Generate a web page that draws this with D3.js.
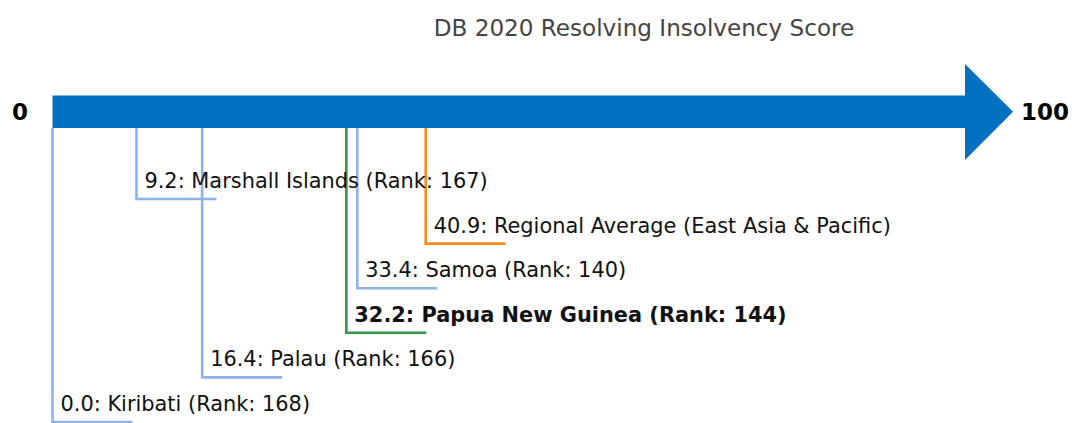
<!DOCTYPE html>
<html>
<head>
<meta charset="utf-8">
<script src="https://cdn.jsdelivr.net/npm/d3@7"></script>
<style>
  html, body { margin: 0; padding: 0; background: #fff; }
  svg { display: block; font-family: "DejaVu Sans", sans-serif; }
</style>
</head>
<body>
<svg id="chart" width="1072" height="423"></svg>
<script>
// Resolving Insolvency scores (0–100), listed in the order of their label rows
const economies = ["Marshall Islands", "Regional Average (East Asia & Pacific)", "Samoa", "Papua New Guinea", "Palau", "Kiribati"];
const scores    = [9.2, 40.9, 33.4, 32.2, 16.4, 0.0];
const ranks     = [167, null, 140, 144, 166, 168];
const kinds     = ["peer", "average", "peer", "focus", "peer", "peer"];
const axisTicks = [0, 100];
const titleText = "DB 2020 Resolving Insolvency Score";

const colors = { peer: "#8cb4ea", average: "#f58a1f", focus: "#2f9a47" };

const svg = d3.select("#chart");
const x = d3.scaleLinear().domain([0, 100]).range([52.5, 965]);
const row = d3.scaleLinear().domain([0, 5]).range([199, 422]);

const barTop = 95.5, barBottom = 128, barMid = (barTop + barBottom) / 2;

// title
svg.append("text")
  .attr("x", 644).attr("y", 36)
  .attr("text-anchor", "middle")
  .attr("font-size", 23.1)
  .attr("fill", "#444")
  .text(titleText);

// score leaders: down from the bar, then right under the label
const data = economies.map((name, i) => ({ name, score: scores[i], rank: ranks[i], kind: kinds[i], i }));

const g = svg.append("g");
g.selectAll("path.leader")
  .data(data)
  .join("path")
  .attr("class", "leader")
  .attr("fill", "none")
  .attr("stroke", d => colors[d.kind])
  .attr("stroke-width", 2.6)
  .attr("d", d => {
    const x0 = x(d.score), y1 = row(d.i);
    return `M${x0},${barBottom}V${y1}H${x0 + 80}`;
  });

g.selectAll("text.label")
  .data(data)
  .join("text")
  .attr("class", "label")
  .attr("x", d => x(d.score) + 8)
  .attr("y", d => row(d.i) - 11)
  .attr("font-size", 20.9)
  .attr("font-weight", d => d.kind === "focus" ? "bold" : "normal")
  .attr("fill", "#111")
  .text(d => d.rank == null
    ? `${d.score.toFixed(1)}: ${d.name}`
    : `${d.score.toFixed(1)}: ${d.name} (Rank: ${d.rank})`);

// arrow-shaped axis bar
const arrow = d3.path();
arrow.moveTo(x(0), barTop);
arrow.lineTo(x(100), barTop);
arrow.lineTo(x(100), 64);
arrow.lineTo(1013, barMid);
arrow.lineTo(x(100), 160);
arrow.lineTo(x(100), barBottom);
arrow.lineTo(x(0), barBottom);
arrow.closePath();
svg.append("path").attr("d", arrow.toString()).attr("fill", "#0070c0");

// end labels
svg.selectAll("text.end")
  .data(axisTicks)
  .join("text")
  .attr("class", "end")
  .attr("x", d => d === 0 ? 20 : 1045)
  .attr("y", barMid + 8)
  .attr("text-anchor", "middle")
  .attr("font-size", 23)
  .attr("font-weight", "bold")
  .attr("fill", "#000")
  .text(d => d);
</script>
</body>
</html>
